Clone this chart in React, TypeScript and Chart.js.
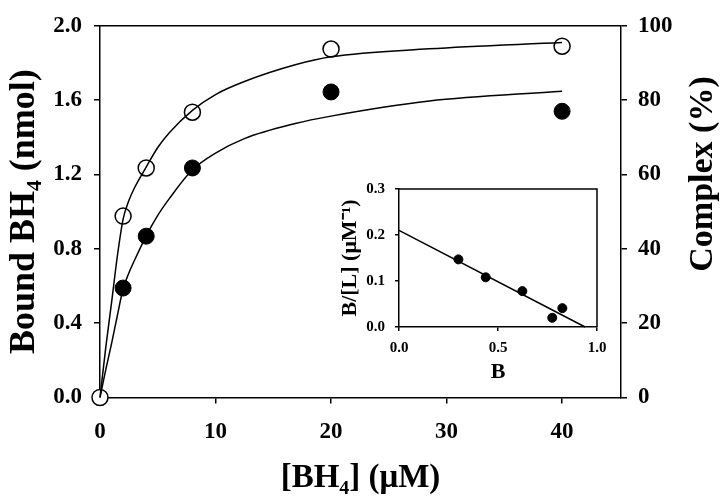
import React, { useEffect, useRef } from 'react';
import { Chart, registerables } from 'chart.js';

Chart.register(...registerables);

// Main chart data
const openConc = [0, 2, 4, 8, 20, 40];
const openBound = [0, 0.976, 1.235, 1.535, 1.875, 1.89];
const filledConc = [2, 4, 8, 20, 40];
const filledBound = [0.589, 0.868, 1.235, 1.644, 1.54];

const curveConc = [0, 0.5, 1, 1.5, 2, 2.5, 3, 4, 5, 6, 8, 10, 12.5, 16.9, 20, 28.5, 40];
const upperCurve = [0, 0.27, 0.51, 0.76, 0.96, 1.06, 1.13, 1.24, 1.345, 1.425, 1.545, 1.63, 1.7, 1.79, 1.833, 1.876, 1.91];
const lowerCurve = [0, 0.15, 0.29, 0.44, 0.585, 0.67, 0.74, 0.87, 0.98, 1.07, 1.225, 1.315, 1.393, 1.474, 1.514, 1.595, 1.648];

const xTicks = [0, 10, 20, 30, 40];
const leftTicks = [0, 0.4, 0.8, 1.2, 1.6, 2.0];
const rightTicks = [0, 20, 40, 60, 80, 100];

// Inset (Scatchard) data
const insetB = [0.3, 0.438, 0.623, 0.774, 0.825];
const insetBL = [0.147, 0.108, 0.078, 0.02, 0.041];
const insetLineB = [0, 0.94];
const insetLineBL = [0.21, 0];
const insetXTicks = [0, 0.5, 1.0];
const insetYTicks = [0, 0.1, 0.2, 0.3];

const RIGHT_TITLE = 'Complex (%)';

const FONT = "'Liberation Serif', 'Times New Roman', serif";

const toXY = (xs: number[], ys: number[]) => xs.map((x, i) => ({ x, y: ys[i] }));

export default function App() {
  const mainRef = useRef<HTMLCanvasElement>(null);
  const insetRef = useRef<HTMLCanvasElement>(null);

  useEffect(() => {
    const mainDecor = {
      id: 'mainDecor',
      afterDraw(chart: any) {
        const { ctx, chartArea } = chart;
        ctx.save();
        ctx.strokeStyle = '#000';
        ctx.lineWidth = 1.5;
        ctx.beginPath();
        ctx.moveTo(chartArea.left, chartArea.top);
        ctx.lineTo(chartArea.right, chartArea.top);
        ctx.stroke();
        // right axis title, read bottom-to-top
        ctx.translate(chartArea.right + 82, 174);
        ctx.rotate(-Math.PI / 2);
        ctx.fillStyle = '#000';
        ctx.font = `bold 34px ${FONT}`;
        ctx.textAlign = 'center';
        ctx.textBaseline = 'middle';
        ctx.fillText(RIGHT_TITLE, 0, 0);
        ctx.restore();
      },
    };
    const boxFrame = {
      id: 'boxFrame',
      afterDraw(chart: any) {
        const { ctx, chartArea } = chart;
        ctx.save();
        ctx.strokeStyle = '#000';
        ctx.lineWidth = 1.5;
        ctx.beginPath();
        ctx.moveTo(chartArea.left, chartArea.top);
        ctx.lineTo(chartArea.right, chartArea.top);
        ctx.lineTo(chartArea.right, chartArea.bottom);
        ctx.stroke();
        ctx.restore();
      },
    };

    const axisGrid = { display: true, drawOnChartArea: false, drawTicks: true, tickLength: 6, color: '#000', lineWidth: 1.5 };
    const axisBorder = { display: true, color: '#000', width: 1.5 };
    const tickFont = { family: FONT, size: 23, weight: 'bold' as const };

    const main = new Chart(mainRef.current!, {
      type: 'scatter',
      data: {
        datasets: [
          {
            data: toXY(curveConc, upperCurve),
            showLine: true,
            borderColor: '#000',
            borderWidth: 1.5,
            pointRadius: 0,
            cubicInterpolationMode: 'monotone',
            clip: false,
          } as any,
          {
            data: toXY(curveConc, lowerCurve),
            showLine: true,
            borderColor: '#000',
            borderWidth: 1.5,
            pointRadius: 0,
            cubicInterpolationMode: 'monotone',
            clip: false,
          } as any,
          {
            data: toXY(filledConc, filledBound),
            pointRadius: 8,
            pointBackgroundColor: '#000',
            pointBorderColor: '#000',
            pointBorderWidth: 1,
            clip: false,
          } as any,
          {
            data: toXY(openConc, openBound),
            pointRadius: 8,
            pointBackgroundColor: '#fff',
            pointBorderColor: '#000',
            pointBorderWidth: 1.5,
            clip: false,
          } as any,
        ],
      },
      options: {
        animation: false,
        responsive: false,
        events: [],
        layout: { padding: { top: 11, left: 0, right: 0, bottom: 0 } },
        plugins: { legend: { display: false }, tooltip: { enabled: false } },
        scales: {
          x: {
            type: 'linear',
            min: 0,
            max: 45.1,
            afterBuildTicks: (s: any) => { s.ticks = xTicks.map((v) => ({ value: v })); },
            afterFit: (s: any) => { s.height = 102.5; },
            ticks: { font: tickFont, color: '#000', padding: 15, maxRotation: 0, callback: (v: any) => String(v) },
            grid: axisGrid,
            border: axisBorder,
            title: { display: true, text: '[BH₄] (μM)', font: { family: FONT, size: 33, weight: 'bold', lineHeight: 1 }, color: '#000', padding: { top: 0, bottom: 5 } },
          },
          y: {
            type: 'linear',
            position: 'left',
            min: 0,
            max: 2.0,
            afterBuildTicks: (s: any) => { s.ticks = leftTicks.map((v) => ({ value: v })); },
            afterFit: (s: any) => { s.width = 100; },
            ticks: { font: tickFont, color: '#000', padding: 12, callback: (v: any) => Number(v).toFixed(1) },
            grid: axisGrid,
            border: axisBorder,
            title: { display: true, text: 'Bound BH₄ (nmol)', font: { family: FONT, size: 36, weight: 'bold', lineHeight: 1 }, color: '#000', padding: { top: 7, bottom: 0 } },
          },
          y2: {
            type: 'linear',
            position: 'right',
            min: 0,
            max: 100,
            afterBuildTicks: (s: any) => { s.ticks = rightTicks.map((v) => ({ value: v })); },
            afterFit: (s: any) => { s.width = 99; },
            ticks: { font: tickFont, color: '#000', padding: 11, callback: (v: any) => String(v) },
            grid: axisGrid,
            border: axisBorder,
            title: { display: false },
          },
        },
      } as any,
      plugins: [mainDecor],
    });

    const insetTick = { family: FONT, size: 15, weight: 'bold' as const };
    const insetGrid = { display: true, drawOnChartArea: false, drawTicks: true, tickLength: 4, color: '#000', lineWidth: 1.5 };

    const inset = new Chart(insetRef.current!, {
      type: 'scatter',
      data: {
        datasets: [
          {
            data: toXY(insetLineB, insetLineBL),
            showLine: true,
            borderColor: '#000',
            borderWidth: 1.5,
            pointRadius: 0,
            clip: false,
          } as any,
          {
            data: toXY(insetB, insetBL),
            pointRadius: 4.5,
            pointBackgroundColor: '#000',
            pointBorderColor: '#000',
            pointBorderWidth: 1,
            clip: false,
          } as any,
        ],
      },
      options: {
        animation: false,
        responsive: false,
        events: [],
        layout: { padding: { top: 10, left: 0, right: 18, bottom: 0 } },
        plugins: { legend: { display: false }, tooltip: { enabled: false } },
        scales: {
          x: {
            type: 'linear',
            min: 0,
            max: 1.0,
            afterBuildTicks: (s: any) => { s.ticks = insetXTicks.map((v) => ({ value: v })); },
            afterFit: (s: any) => { s.height = 58; },
            ticks: { font: insetTick, color: '#000', padding: 8, maxRotation: 0, callback: (v: any) => Number(v).toFixed(1) },
            grid: insetGrid,
            border: axisBorder,
            title: { display: true, text: 'B', font: { family: FONT, size: 22, weight: 'bold', lineHeight: 1 }, color: '#000', padding: { top: 0, bottom: 2 } },
          },
          y: {
            type: 'linear',
            min: 0,
            max: 0.3,
            afterBuildTicks: (s: any) => { s.ticks = insetYTicks.map((v) => ({ value: v })); },
            afterFit: (s: any) => { s.width = 69; },
            ticks: { font: insetTick, color: '#000', padding: 10, callback: (v: any) => Number(v).toFixed(1) },
            grid: insetGrid,
            border: axisBorder,
            title: { display: true, text: 'B/[L] (μM⁻¹)', font: { family: FONT, size: 22, weight: 'bold', lineHeight: 1 }, color: '#000', padding: { top: 9, bottom: 0 } },
          },
        },
      } as any,
      plugins: [boxFrame],
    });

    return () => {
      main.destroy();
      inset.destroy();
    };
  }, []);

  return (
    <div style={{ position: 'absolute', left: 0, top: 0, width: 720, height: 500, background: '#fff' }}>
      <canvas ref={mainRef} width={720} height={500} style={{ position: 'absolute', left: 0, top: 0 }} />
      <canvas ref={insetRef} width={285} height={215} style={{ position: 'absolute', left: 330, top: 170 }} />
    </div>
  );
}
